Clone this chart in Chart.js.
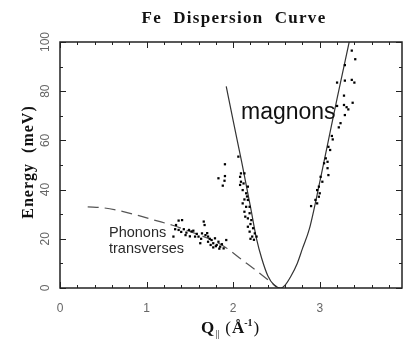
<!DOCTYPE html>
<html>
<head>
<meta charset="utf-8">
<script src="https://cdn.jsdelivr.net/npm/chart.js@4.4.1/dist/chart.umd.min.js"></script>
<style>
  body { margin: 0; background: #fff; }
  #wrap { width: 406px; height: 341px; }
</style>
</head>
<body>
<div id="wrap"><canvas id="fe" width="406" height="341"></canvas></div>
<script>
// tick labels
const xTicks = [0, 1, 2, 3];
const yTicks = [0, 20, 40, 60, 80, 100];

// magnon dispersion line
const magnonQ = [1.92, 2.0, 2.1, 2.2, 2.27, 2.33, 2.4, 2.47, 2.55, 2.6, 2.67, 2.74, 2.8, 2.88, 3.0, 3.1, 3.2, 3.34];
const magnonE = [82, 68, 51, 33, 20, 12, 5, 1.3, 0, 1.2, 5, 10, 16, 24, 43, 60, 77, 100];

// transverse phonon branch (dashed)
const phononQ = [0.32, 0.5, 0.7, 0.9, 1.1, 1.3, 1.5, 1.7, 1.9, 2.1, 2.3, 2.5];
const phononE = [33, 32.6, 31.3, 29.5, 27.5, 25.5, 23, 20.3, 16.8, 11.5, 6.2, 0.5];

// measured points
const pointsQ = [
  1.31, 1.33, 1.34, 1.37, 1.41, 1.37, 1.40, 1.43, 1.46, 1.49, 1.52, 1.54, 1.56, 1.58, 1.60, 1.62, 1.64, 1.66, 1.67, 1.68,
  1.70, 1.71, 1.71, 1.73, 1.75, 1.77, 1.79, 1.80, 1.81, 1.83, 1.84, 1.85, 1.87, 1.89, 1.92, 1.45, 1.50, 1.63, 1.77, 1.74,
  1.83, 1.905, 1.90, 1.88, 1.905,
  2.06, 2.09, 2.13, 2.08, 2.09, 2.08, 2.17, 2.11, 2.15, 2.13, 2.17, 2.11, 2.15, 2.19, 2.13, 2.19, 2.17, 2.21, 2.17, 2.23,
  2.19, 2.25, 2.22, 2.27, 2.20, 2.24, 2.14, 2.20, 2.16, 2.12,
  3.37, 3.41, 3.29, 3.20, 3.29, 3.37, 3.40, 3.28, 3.20, 3.28, 3.31, 3.33, 3.38, 3.29, 3.24, 3.22, 3.14, 3.15, 3.10, 3.12,
  3.07, 3.09, 3.05, 3.09, 3.10, 3.01, 3.03, 2.99, 2.97, 3.00, 2.99, 2.95, 2.90, 2.97
];
const pointsE = [
  20.9, 23.9, 25.6, 27.4, 27.6, 23.6, 22.8, 23.9, 22.5, 23.6, 23.0, 23.3, 20.9, 22.0, 20.9, 18.2, 22.2, 27.0, 25.6, 21.5,
  22.3, 20.9, 18.8, 20.0, 19.5, 18.2, 20.2, 17.0, 17.5, 18.8, 16.0, 16.8, 17.8, 16.1, 19.5, 21.5, 21.0, 20.0, 16.5, 17.5,
  44.6, 45.5, 43.6, 41.6, 50.3,
  53.4, 46.6, 46.6, 45.2, 43.2, 41.9, 41.2, 39.8, 38.5, 36.0, 35.8, 34.4, 33.0, 33.0, 31.0, 30.4, 28.3, 27.6, 24.9, 24.3,
  22.9, 22.2, 20.9, 20.9, 20.0, 19.6, 29.0, 26.0, 37.2, 42.5,
  96.5, 93.0, 90.6, 83.5, 84.3, 84.6, 83.5, 78.2, 74.0, 74.4, 73.5, 72.6, 75.3, 70.3, 67.0, 65.3, 61.8, 60.4, 57.4, 56.1,
  52.7, 51.3, 50.7, 48.7, 45.9, 45.2, 43.2, 41.2, 39.8, 38.5, 37.1, 35.8, 33.3, 34.4
];

function xy(qs, es) {
  return qs.map((q, i) => ({ x: q, y: es[i] }));
}

// frame, inward ticks and all free text
const decorations = {
  id: 'decorations',
  afterDraw(chart) {
    const ctx = chart.ctx;
    const a = chart.chartArea;
    const xs = chart.scales.x;
    const ys = chart.scales.y;
    ctx.save();
    ctx.strokeStyle = '#222';
    ctx.lineWidth = 1.5;
    ctx.strokeRect(a.left, a.top, a.right - a.left, a.bottom - a.top);

    ctx.lineWidth = 1;
    for (let i = 0; i <= 19; i++) {
      const v = i * 0.2;
      const px = Math.round(xs.getPixelForValue(v)) + 0.5;
      const len = i % 5 === 0 ? 6 : 3;
      ctx.beginPath();
      ctx.moveTo(px, a.bottom); ctx.lineTo(px, a.bottom - len);
      ctx.moveTo(px, a.top); ctx.lineTo(px, a.top + len);
      ctx.stroke();
    }
    for (let v = 0; v <= 100; v += 10) {
      const py = Math.round(ys.getPixelForValue(v)) + 0.5;
      const len = v % 20 === 0 ? 6 : 3;
      ctx.beginPath();
      ctx.moveTo(a.left, py); ctx.lineTo(a.left + len, py);
      ctx.moveTo(a.right, py); ctx.lineTo(a.right - len, py);
      ctx.stroke();
    }

    ctx.fillStyle = '#111';
    ctx.textBaseline = 'alphabetic';
    ctx.textAlign = 'center';
    ctx.font = 'bold 17px "Liberation Serif", serif';
    ctx.letterSpacing = '1.3px';
    ctx.fillText('Fe  Dispersion  Curve', 234, 23);

    // y title
    ctx.font = 'bold 16px "Liberation Serif", serif';
    ctx.letterSpacing = '1px';
    ctx.save();
    ctx.translate(33, 162);
    ctx.rotate(-Math.PI / 2);
    ctx.fillText('Energy  (meV)', 0, 0);
    ctx.restore();
    ctx.letterSpacing = '0px';

    // x title: Q|| (Å-1)
    let x = 201;
    const base = 333;
    ctx.textAlign = 'left';
    ctx.font = 'bold 17px "Liberation Serif", serif';
    ctx.fillText('Q', x, base);
    x += ctx.measureText('Q').width + 1;
    ctx.font = '10px "Liberation Serif", serif';
    ctx.fillText('||', x, base + 4);
    x += ctx.measureText('||').width + 6;
    ctx.font = '17px "Liberation Serif", serif';
    ctx.fillText('(', x, base);
    x += ctx.measureText('(').width + 1;
    ctx.font = 'bold 17px "Liberation Serif", serif';
    ctx.fillText('\u00C5', x, base);
    x += ctx.measureText('\u00C5').width;
    ctx.font = 'bold 10px "Liberation Serif", serif';
    ctx.fillText('-1', x, base - 7);
    x += ctx.measureText('-1').width + 1;
    ctx.font = '17px "Liberation Serif", serif';
    ctx.fillText(')', x, base);

    ctx.fillStyle = '#111';
    ctx.font = '23px "Liberation Sans", Arial, sans-serif';
    ctx.fillText('magnons', 241, 119);

    ctx.fillStyle = '#2a2a2a';
    ctx.font = '14.5px "Liberation Sans", Arial, sans-serif';
    ctx.fillText('Phonons', 109, 237);
    ctx.fillText('transverses', 109, 253);
    ctx.restore();
  }
};

new Chart(document.getElementById('fe'), {
  type: 'scatter',
  data: {
    datasets: [
      {
        data: xy(pointsQ, pointsE),
        backgroundColor: '#000',
        borderColor: '#000',
        pointRadius: 1.6,
        pointStyle: 'rect',
        borderWidth: 0
      },
      {
        type: 'line',
        data: xy(magnonQ, magnonE),
        borderColor: '#333',
        borderWidth: 1.2,
        pointRadius: 0,
        fill: false,
        cubicInterpolationMode: 'monotone'
      },
      {
        type: 'line',
        data: xy(phononQ, phononE),
        borderColor: '#555',
        borderWidth: 1.2,
        borderDash: [11, 6],
        pointRadius: 0,
        fill: false,
        cubicInterpolationMode: 'monotone'
      }
    ]
  },
  options: {
    responsive: false,
    animation: false,
    layout: { padding: { top: 42, right: 0, left: 0, bottom: 0 } },
    plugins: {
      legend: { display: false },
      tooltip: { enabled: false }
    },
    scales: {
      x: {
        type: 'linear',
        min: 0,
        max: 3.95,
        afterFit(scale) { scale.height = 53; },
        afterBuildTicks(scale) { scale.ticks = xTicks.map(v => ({ value: v })); },
        grid: { display: false },
        border: { display: false },
        ticks: {
          color: '#666',
          padding: 5,
          font: { family: '"Liberation Sans", Arial, sans-serif', size: 12 },
          callback: v => String(v)
        }
      },
      y: {
        type: 'linear',
        min: 0,
        max: 100,
        afterFit(scale) { scale.width = 60; },
        afterBuildTicks(scale) { scale.ticks = yTicks.map(v => ({ value: v })); },
        grid: { display: false },
        border: { display: false },
        ticks: {
          color: '#666',
          padding: -4,
          minRotation: 90,
          maxRotation: 90,
          crossAlign: 'center',
          font: { family: '"Liberation Sans", Arial, sans-serif', size: 12 },
          callback: v => String(v)
        }
      }
    }
  },
  plugins: [decorations]
});
</script>
</body>
</html>
